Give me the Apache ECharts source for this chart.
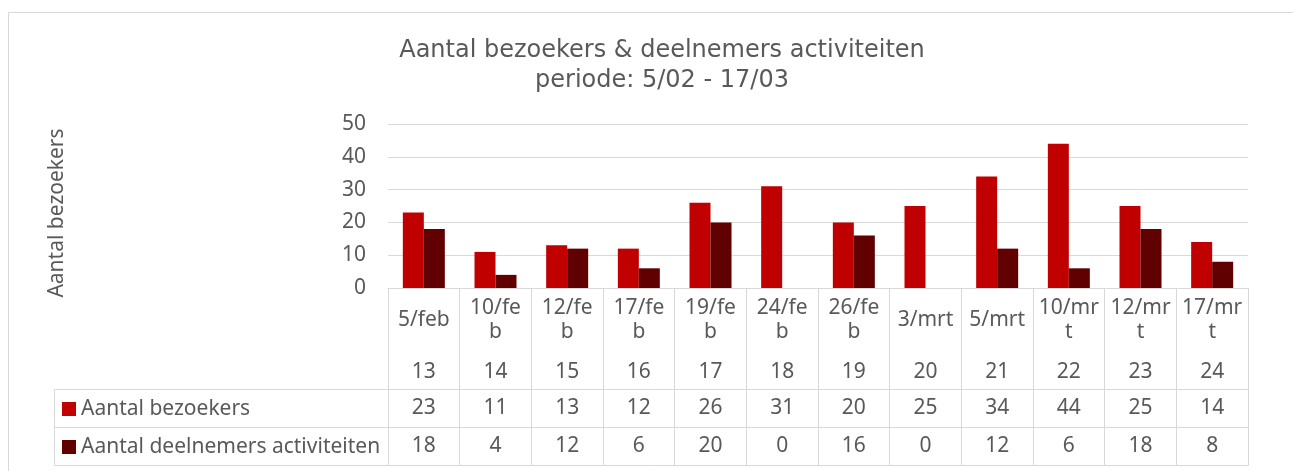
<!DOCTYPE html>
<html>
<head>
<meta charset="utf-8">
<script src="https://cdn.jsdelivr.net/npm/echarts@6/dist/echarts.min.js"></script>
<style>
  html, body { margin: 0; padding: 0; background: #fff; }
  #chart { width: 1293px; height: 471px; }
</style>
</head>
<body>
<div id="chart"></div>
<script>
const dates = ['5/feb', '10/feb', '12/feb', '17/feb', '19/feb', '24/feb', '26/feb', '3/mrt', '5/mrt', '10/mrt', '12/mrt', '17/mrt']
const weeks = [13, 14, 15, 16, 17, 18, 19, 20, 21, 22, 23, 24]
const bezoekers = [23, 11, 13, 12, 26, 31, 20, 25, 34, 44, 25, 14]
const deelnemers = [18, 4, 12, 6, 20, 0, 16, 0, 12, 6, 18, 8]
const yTicks = [0, 10, 20, 30, 40, 50]

const grey = '#595959'
const rule = '#d9d9d9'
const font = 'Noto Sans'
const size = 21

const chart = echarts.init(document.getElementById('chart'))

// rows of the data table below the axis, one extra category axis each
function rowAxis(margin, formatter) {
  return {
    type: 'category',
    data: dates,
    gridIndex: 0,
    position: 'bottom',
    axisLine: { show: false },
    axisTick: { show: false },
    axisLabel: {
      interval: 0,
      margin: margin,
      verticalAlign: 'middle',
      color: grey,
      fontFamily: font,
      fontSize: size,
      formatter: formatter,
    },
  }
}

chart.setOption({
  animation: false,
  title: {
    text: 'Aantal bezoekers & deelnemers activiteiten\nperiode: 5/02 - 17/03',
    left: 657,
    top: 31,
    textAlign: 'center',
    textStyle: {
      color: grey,
      fontFamily: 'DejaVu Sans',
      fontWeight: 'normal',
      fontSize: 24,
      lineHeight: 30,
    },
  },
  legend: {
    orient: 'vertical',
    left: 62,
    top: 398,
    padding: 0,
    itemWidth: 14,
    itemHeight: 14,
    itemGap: 16,
    icon: 'rect',
    data: ['Aantal bezoekers', 'Aantal deelnemers activiteiten'],
    textStyle: { color: grey, fontFamily: font, fontSize: size, lineHeight: 22 },
  },
  grid: { left: 388, right: 45, top: 124, bottom: 183 },
  xAxis: [
    {
      type: 'category',
      data: dates,
      axisLine: { show: true, lineStyle: { color: rule, width: 1 } },
      axisTick: { show: true, length: 177, lineStyle: { color: rule } },
      axisLabel: {
        interval: 0,
        margin: 32,
        verticalAlign: 'middle',
        color: grey,
        fontFamily: font,
        fontSize: size,
        lineHeight: 24,
        formatter: (v) => (v.length > 5 ? v.slice(0, 5) + '\n' + v.slice(5) : v),
      },
    },
    rowAxis(84, (v, i) => String(weeks[i])),
    rowAxis(120, (v, i) => String(bezoekers[i])),
    rowAxis(158, (v, i) => String(deelnemers[i])),
  ],
  yAxis: {
    type: 'value',
    min: yTicks[0],
    max: yTicks[yTicks.length - 1],
    interval: 10,
    axisLine: { show: false },
    axisTick: { show: false },
    axisLabel: { color: grey, fontFamily: font, fontSize: size, margin: 22 },
    splitLine: { lineStyle: { color: rule, width: 1 } },
  },
  graphic: [
    {
      type: 'rect',
      shape: { x: 8.5, y: 12.5, width: 1400, height: 600 },
      style: { fill: null, stroke: rule, lineWidth: 1 },
      silent: true,
    },
    {
      type: 'text',
      x: 57,
      y: 213,
      rotation: Math.PI / 2,
      style: {
        text: 'Aantal bezoekers',
        fill: grey,
        font: size + 'px "' + font + '"',
        align: 'center',
        verticalAlign: 'middle',
      },
      silent: true,
    },
    {
      type: 'rect',
      shape: { x: 54.5, y: 389.5, width: 1194, height: 76 },
      style: { fill: null, stroke: rule, lineWidth: 1 },
      silent: true,
    },
    {
      type: 'line',
      shape: { x1: 54, y1: 427.5, x2: 1248, y2: 427.5 },
      style: { stroke: rule, lineWidth: 1 },
      silent: true,
    },
  ],
  series: [
    {
      name: 'Aantal bezoekers',
      type: 'bar',
      data: bezoekers,
      barWidth: 21,
      barGap: '0%',
      itemStyle: { color: '#c00000' },
    },
    {
      name: 'Aantal deelnemers activiteiten',
      type: 'bar',
      data: deelnemers,
      barWidth: 21,
      barGap: '0%',
      itemStyle: { color: '#600000' },
    },
  ],
})
</script>
</body>
</html>
